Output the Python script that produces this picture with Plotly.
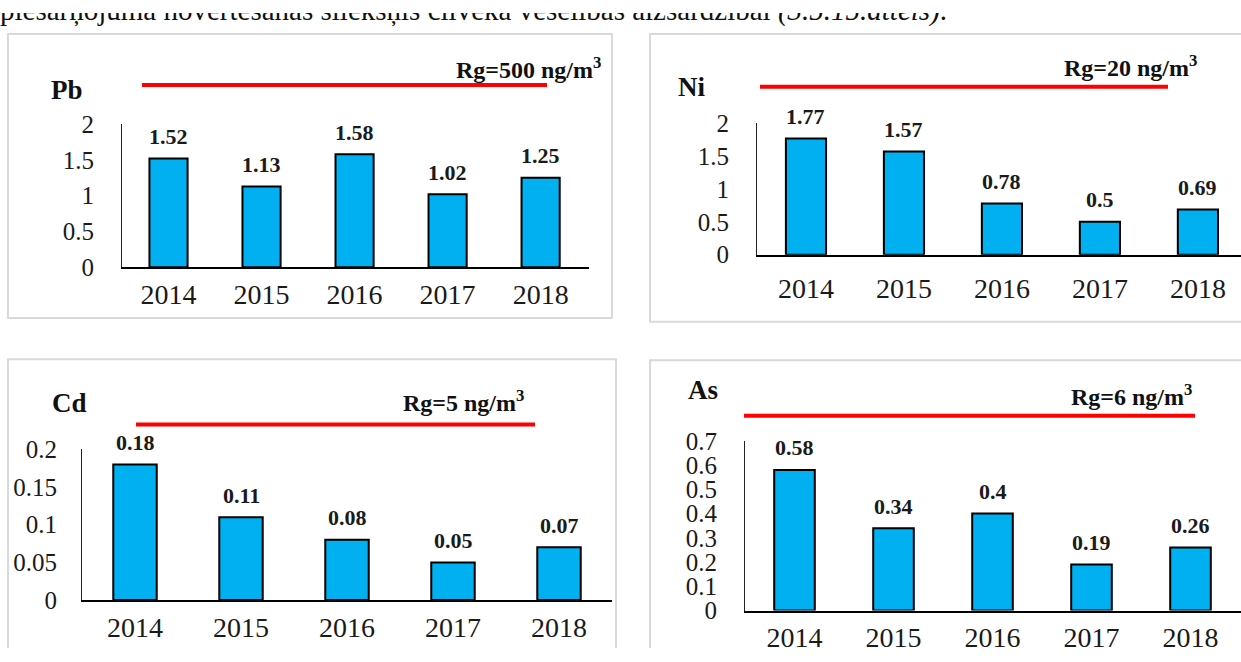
import plotly.graph_objects as go

W, H = 1241, 662

years = ["2014", "2015", "2016", "2017", "2018"]
pb_values = [1.52, 1.13, 1.58, 1.02, 1.25]
ni_values = [1.77, 1.57, 0.78, 0.5, 0.69]
cd_values = [0.18, 0.11, 0.08, 0.05, 0.07]
as_values = [0.58, 0.34, 0.4, 0.19, 0.26]
pb_labels = ["1.52", "1.13", "1.58", "1.02", "1.25"]
ni_labels = ["1.77", "1.57", "0.78", "0.5", "0.69"]
cd_labels = ["0.18", "0.11", "0.08", "0.05", "0.07"]
as_labels = ["0.58", "0.34", "0.4", "0.19", "0.26"]
pb_ticks = [0, 0.5, 1, 1.5, 2]
ni_ticks = [0, 0.5, 1, 1.5, 2]
cd_ticks = [0, 0.05, 0.1, 0.15, 0.2]
as_ticks = [0, 0.1, 0.2, 0.3, 0.4, 0.5, 0.6, 0.7]
pb_tick_text = ["0", "0.5", "1", "1.5", "2"]
ni_tick_text = ["0", "0.5", "1", "1.5", "2"]
cd_tick_text = ["0", "0.05", "0.1", "0.15", "0.2"]
as_tick_text = ["0", "0.1", "0.2", "0.3", "0.4", "0.5", "0.6", "0.7"]
metals = ["Pb", "Ni", "Cd", "As"]
limits = ["Rg=500 ng/m<sup>3</sup>", "Rg=20 ng/m<sup>3</sup>", "Rg=5 ng/m<sup>3</sup>", "Rg=6 ng/m<sup>3</sup>"]
caption = "piesārņojuma novērtēšanas sliekšņis cilvēka veselības aizsardzībai <i>(3.5.15.attēls)</i>."

SERIF = "Liberation Serif, Times New Roman, serif"
BAR = "#00B0F0"


def fx(p):
    return p / W


def fy(p):
    return 1 - p / H


panels = [
    dict(vals=pb_values, labs=pb_labels, ticks=pb_ticks, tt=pb_tick_text,
         dx=(122, 589), dy=(265, 116), xr=(-0.5, 4.52), ymax=2, xtl=1, ytl=22,
         frame=[(612, 318), (8, 318), (8, 22), (612, 22), (612, 318)],
         name=(67, 80), red=(142, 547, 75), rg=(528, 57)),
    dict(vals=ni_values, labs=ni_labels, ticks=ni_ticks, tt=ni_tick_text,
         dx=(757, 1241), dy=(252, 115), xr=(-0.5, 4.44), ymax=2, xtl=8, ytl=22,
         frame=[(1241, 22), (650, 22), (650, 322), (1241, 322)],
         name=(691, 77), red=(760, 1168, 77), rg=(1130, 55)),
    dict(vals=cd_values, labs=cd_labels, ticks=cd_ticks, tt=cd_tick_text,
         dx=(82, 612), dy=(612, 455), xr=(-0.5, 4.5), ymax=0.2, xtl=1, ytl=19,
         frame=[(8, 662), (8, 361), (616, 361), (616, 662)],
         name=(69, 407), red=(136, 535, 429), rg=(463, 405)),
    dict(vals=as_values, labs=as_labels, ticks=as_ticks, tt=as_tick_text,
         dx=(745, 1241), dy=(623, 446), xr=(-0.5, 4.51), ymax=0.7, xtl=1, ytl=22,
         frame=[(650, 662), (650, 362), (1241, 362)],
         name=(703, 393), red=(744, 1195, 420), rg=(1131, 398)),
]

fig = go.Figure()
shapes = []
annotations = []

for i, p in enumerate(panels):
    n = "" if i == 0 else str(i + 1)
    xa, ya = "x" + n, "y" + n
    fig.add_trace(go.Bar(
        x=years, y=p["vals"], xaxis=xa, yaxis=ya, width=0.41,
        marker=dict(color=BAR, line=dict(color="black", width=2)),
        showlegend=False, hoverinfo="x+y",
    ))
    fig.update_layout(**{
        "xaxis" + n: dict(
            domain=[fx(p["dx"][0]), fx(p["dx"][1])], anchor=ya, type="category",
            range=list(p["xr"]), showline=True, linecolor="black", linewidth=2,
            showgrid=False, zeroline=False, ticks="outside", ticklen=p["xtl"],
            tickcolor="rgba(0,0,0,0)", tickfont=dict(family=SERIF, size=28, color="#1a1a1a"),
            fixedrange=True,
        ),
        "yaxis" + n: dict(
            domain=[fy(p["dy"][0]), fy(p["dy"][1])], anchor=xa,
            range=[0, p["ymax"]], tickvals=p["ticks"], ticktext=p["tt"],
            showline=True, linecolor="#222", linewidth=1, showgrid=False,
            zeroline=False, ticks="outside", ticklen=p["ytl"],
            tickcolor="rgba(0,0,0,0)", tickfont=dict(family=SERIF, size=25, color="#1a1a1a"),
            fixedrange=True,
        ),
    })
    for j, (v, lab) in enumerate(zip(p["vals"], p["labs"])):
        annotations.append(dict(
            x=j, y=v, xref=xa, yref=ya, text="<b>%s</b>" % lab, showarrow=False,
            yshift=22, yanchor="middle", xanchor="center",
            font=dict(family=SERIF, size=22, color="#1a1a1a"),
        ))
    path = "M " + " L ".join("%.5f,%.5f" % (fx(a), fy(b)) for a, b in p["frame"])
    shapes.append(dict(type="path", xref="paper", yref="paper", path=path,
                       line=dict(color="#D9D9D9", width=2), layer="below"))
    r0, r1, ry = p["red"]
    shapes.append(dict(type="line", xref="paper", yref="paper",
                       x0=fx(r0), x1=fx(r1), y0=fy(ry), y1=fy(ry),
                       line=dict(color="#FF0000", width=4)))
    nx, ny = p["name"]
    annotations.append(dict(x=fx(nx), y=fy(ny), xref="paper", yref="paper",
                            text="<b>%s</b>" % metals[i], showarrow=False,
                            xanchor="center", yanchor="middle",
                            font=dict(family=SERIF, size=27, color="#111")))
    gx, gy = p["rg"]
    annotations.append(dict(x=fx(gx), y=fy(gy), xref="paper", yref="paper",
                            text="<b>%s</b>" % limits[i], showarrow=False,
                            xanchor="center", yanchor="middle",
                            font=dict(family=SERIF, size=24, color="#111")))

# caption line of the page above, clipped by the top edge (clipped text trace)
fig.add_trace(go.Scatter(
    x=[0], y=[1], xaxis="x5", yaxis="y5", mode="text", text=[caption],
    textposition="middle right", cliponaxis=True, showlegend=False, hoverinfo="skip",
    textfont=dict(family=SERIF, size=29, color="#111"),
))
fig.update_layout(
    xaxis5=dict(domain=[0, 1], range=[0, 1], visible=False, anchor="y5", fixedrange=True),
    yaxis5=dict(domain=[fy(18), 1], range=[0, 1], visible=False, anchor="x5", fixedrange=True),
)

fig.update_layout(
    width=W, height=H, margin=dict(l=0, r=0, t=0, b=0),
    paper_bgcolor="white", plot_bgcolor="rgba(0,0,0,0)",
    shapes=shapes, annotations=annotations, bargap=0.5,
)

post = (
    "document.documentElement.style.margin='0';"
    "document.documentElement.style.overflow='hidden';"
    "document.body.style.margin='0';document.body.style.overflow='hidden';"
)
fig.write_html("out.html", config={"displayModeBar": False}, post_script=post)
